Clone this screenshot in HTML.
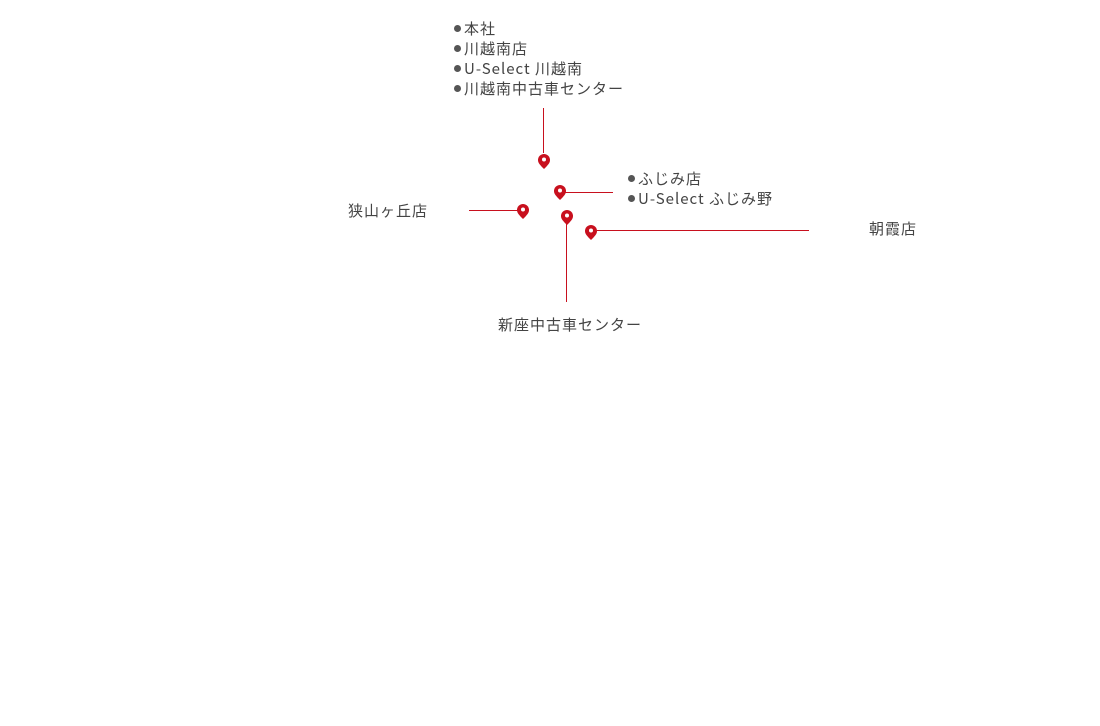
<!DOCTYPE html>
<html><head><meta charset="utf-8"><style>
body{margin:0;width:1100px;height:726px;background:#fff;position:relative;overflow:hidden;font-family:"Noto Sans CJK JP","Liberation Sans",sans-serif;color:#444;font-size:15px}
.t{position:absolute;white-space:nowrap;line-height:20px;letter-spacing:1px}
.d{display:inline-block;width:7px;height:7px;border-radius:50%;background:#555;margin-right:3px;vertical-align:2px}
.l{position:absolute;background:#c8101e}
</style></head><body>
<div class="t" style="left:454px;top:19px"><span class="d"></span>本社<br><span class="d"></span>川越南店<br><span class="d"></span>U-Select 川越南<br><span class="d"></span>川越南中古車センター</div>
<div class="t" style="left:628px;top:169px"><span class="d"></span>ふじみ店<br><span class="d"></span>U-Select ふじみ野</div>
<div class="t" style="left:348px;top:201px">狭山ヶ丘店</div>
<div class="t" style="left:869px;top:219px">朝霞店</div>
<div class="t" style="left:498px;top:315px">新座中古車センター</div>
<div class="l" style="left:543px;top:108px;width:1px;height:45px"></div>
<div class="l" style="left:565px;top:192px;width:48px;height:1px"></div>
<div class="l" style="left:469px;top:210px;width:50px;height:1px"></div>
<div class="l" style="left:566px;top:223px;width:1px;height:79px"></div>
<div class="l" style="left:597px;top:230px;width:212px;height:1px"></div>
<svg width="1100" height="726" style="position:absolute;left:0;top:0">
<defs><g id="pin"><path d="M0,9 C-4,5 -6,3 -6,0 A6,6 0 1 1 6,0 C6,3 4,5 0,9Z" fill="#c8101e"/><circle cx="0" cy="-0.5" r="2" fill="#fff"/></g></defs>
<use href="#pin" x="544" y="160"/>
<use href="#pin" x="560" y="191"/>
<use href="#pin" x="523" y="210"/>
<use href="#pin" x="567" y="216"/>
<use href="#pin" x="591" y="231"/>
</svg>
</body></html>
